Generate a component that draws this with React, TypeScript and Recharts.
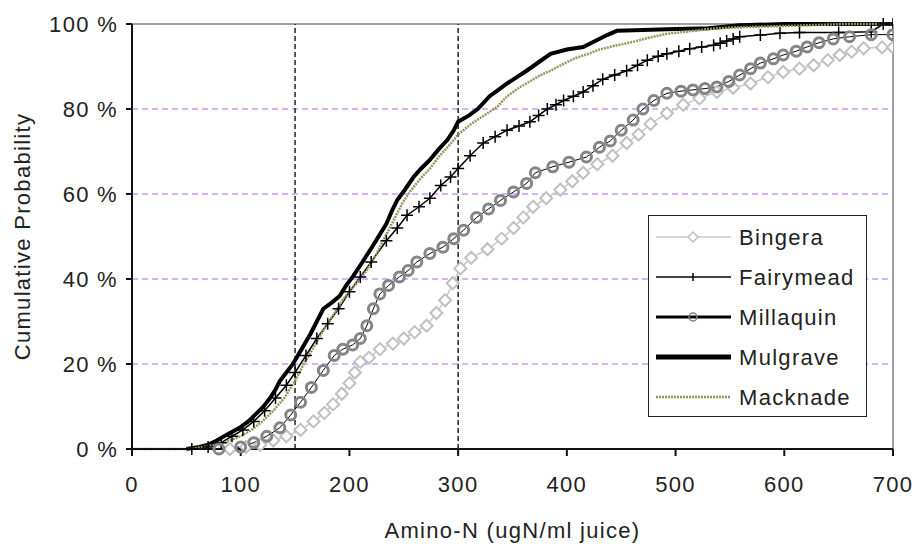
import React from 'react';
import { LineChart, Line, XAxis, YAxis, CartesianGrid, ReferenceLine, Legend, Label } from 'recharts';

const FONT = '"Liberation Sans", Arial, sans-serif';

const xTicks = [0, 100, 200, 300, 400, 500, 600, 700];
const yTicks = [0, 20, 40, 60, 80, 100];
const markers = [150, 300];

// Bingera
const bingeraX = [90, 105, 118, 130, 142, 155, 167, 177, 185, 193, 200, 205, 210, 218, 228, 240, 250, 260, 271, 280, 288, 295, 302, 312, 327, 340, 351, 360, 369, 381, 394, 405, 415, 428, 442, 455, 466, 477, 492, 507, 522, 538, 553, 569, 585, 599, 614, 627, 640, 651, 662, 673, 690, 700];
const bingeraP = [0, 0.5, 1, 2, 3, 4.5, 6.5, 8.5, 10.5, 13, 15.5, 18, 20.5, 21.5, 23.5, 24.8, 26, 27.5, 29, 32, 35, 39, 42.5, 45, 47, 49.5, 52, 54.5, 57, 59, 61, 63, 65, 67, 69, 72, 74, 76.5, 79, 81, 82.5, 84, 85, 86, 87.5, 88.7, 89.5, 90.3, 91.5, 92.7, 93.5, 94.3, 94.5, 94.5];

// Fairymead
const fairyX = [55, 70, 82, 92, 102, 112, 122, 132, 142, 150, 160, 170, 180, 190, 200, 210, 220, 234, 244, 253, 264, 274, 284, 293, 300, 311, 323, 334, 345, 356, 366, 374, 382, 390, 397, 406, 415, 424, 433, 444, 455, 465, 474, 484, 492, 503, 513, 524, 535, 541, 547, 553, 559, 578, 596, 614, 650, 680, 691, 700];
const fairyP = [0, 0.5, 1.5, 3, 4.5, 6.5, 9, 12, 15, 18, 22, 26, 29.5, 33, 37, 40.5, 44, 49, 52, 55, 57, 59, 62, 64, 66, 69, 72, 73.5, 75, 76, 77, 78.5, 80, 81, 82, 83, 84, 85.5, 87, 88, 89, 90.3, 91.5, 92.4, 93, 93.6, 94.2, 94.6, 95, 95.5, 96, 96.5, 97, 97.4, 97.8, 98, 98, 98.2, 100, 100];

// Millaquin
const millaX = [80, 100, 112, 124, 136, 146, 155, 165, 176, 186, 194, 203, 210, 216, 222, 228, 236, 246, 254, 262, 274, 286, 296, 305, 317, 328, 339, 351, 363, 371, 387, 402, 418, 430, 440, 450, 461, 470, 480, 492, 505, 516, 527, 538, 549, 559, 569, 578, 590, 599, 611, 621, 632, 645, 660, 680, 700];
const millaP = [0, 0.5, 1.5, 3, 5, 8, 11, 14.5, 18.5, 22, 23.5, 24.5, 26, 29, 33, 36.5, 38.5, 40.5, 42, 44, 46, 47.5, 49.5, 51.5, 54.5, 56.5, 58.5, 60.5, 62.5, 65, 66.4, 67.5, 68.7, 71, 72.5, 75, 77.4, 80, 82, 83.7, 84.2, 84.5, 84.8, 85.2, 86.5, 88, 89.5, 90.8, 91.8, 92.7, 93.6, 94.6, 95.6, 96.5, 97, 97.5, 97.5];

// Mulgrave
const mulgX = [50, 62, 70, 78, 88, 99, 107, 115, 121, 127, 132, 136, 142, 148, 156, 164, 170, 176, 184, 191, 197, 203, 212, 222, 228, 234, 239, 244, 251, 259, 266, 274, 282, 290, 296, 300, 310, 318, 329, 337, 345, 354, 363, 374, 385, 400, 415, 426, 437, 446, 470, 500, 530, 559, 600, 700];
const mulgP = [0, 0.5, 1, 2, 3.5, 5, 6.5, 8.5, 10, 12, 14, 16, 18, 20, 23.5, 27, 30, 33, 34.5, 36, 38.5, 40.5, 44, 48, 50.5, 53, 56, 58.6, 61, 64, 66, 68, 70.5, 72.7, 75, 77, 78.5, 80, 83, 84.5, 86, 87.5, 89, 91, 93, 94, 94.6, 96, 97.4, 98.4, 98.6, 98.8, 99, 99.7, 100, 100];

// Macknade
const mackX = [0, 55, 65, 78, 90, 100, 110, 120, 130, 140, 150, 158, 166, 175, 185, 195, 205, 216, 225, 233, 240, 249, 257, 265, 274, 283, 292, 300, 312, 324, 336, 345, 356, 366, 376, 385, 396, 408, 420, 430, 446, 461, 476, 492, 510, 530, 553, 580, 610, 655, 700];
const mackP = [0, 0, 0.5, 1, 2, 3, 4.5, 6.5, 9, 12, 16, 20, 23.5, 27.5, 31.5, 35.5, 38.5, 42, 46, 50, 53.5, 58, 61, 63.5, 66, 69, 71.5, 74, 76.5, 78.5, 80.5, 83, 85, 86.5, 88, 89, 90.5, 92, 93, 94, 95, 95.8, 96.8, 97.7, 98.2, 98.8, 99.2, 99.4, 99.6, 100, 100];

const pts = (xs: number[], ps: number[]) => xs.map((x, i) => ({ x, p: ps[i] }));

type DotProps = { cx?: number; cy?: number; index?: number };

const diamondDot = ({ cx, cy, index }: DotProps) => {
  if (cx == null || cy == null) return <g key={index} />;
  return (
    <path
      key={index}
      d={`M${cx},${cy - 6}L${cx + 6},${cy}L${cx},${cy + 6}L${cx - 6},${cy}Z`}
      fill="#fff"
      stroke="#c0c0c0"
      strokeWidth={2}
    />
  );
};

const plusDot = ({ cx, cy, index }: DotProps) => {
  if (cx == null || cy == null) return <g key={index} />;
  return (
    <path
      key={index}
      d={`M${cx - 6},${cy}H${cx + 6}M${cx},${cy - 6}V${cy + 6}`}
      stroke="#000"
      strokeWidth={1.5}
    />
  );
};

const circleDot = ({ cx, cy, index }: DotProps) => {
  if (cx == null || cy == null) return <g key={index} />;
  return <circle key={index} cx={cx} cy={cy} r={5} fill="none" stroke="#858585" strokeWidth={3} />;
};

const legendRows = ['Bingera', 'Fairymead', 'Millaquin', 'Mulgrave', 'Macknade'];

function LegendBox() {
  return (
    <div style={{ width: 219, height: 202, border: '1.5px solid #222', background: '#fff', boxSizing: 'border-box' }}>
      <svg width={216} height={199} style={{ display: 'block' }}>
        {legendRows.map((name, i) => {
          const y = 21 + i * 40;
          return (
            <g key={name}>
              {i === 0 && (
                <>
                  <line x1={7} x2={82} y1={y} y2={y} stroke="#c8c8c8" strokeWidth={1.5} />
                  <path d={`M44,${y - 5}L49,${y}L44,${y + 5}L39,${y}Z`} fill="#fff" stroke="#bdbdbd" strokeWidth={1.5} />
                </>
              )}
              {i === 1 && (
                <>
                  <line x1={7} x2={82} y1={y} y2={y} stroke="#000" strokeWidth={1.5} />
                  <line x1={44} x2={44} y1={y - 4} y2={y + 4} stroke="#000" strokeWidth={1.5} />
                </>
              )}
              {i === 2 && (
                <>
                  <line x1={7} x2={82} y1={y} y2={y} stroke="#000" strokeWidth={3} />
                  <circle cx={44} cy={y} r={4} fill="none" stroke="#808080" strokeWidth={1.5} />
                </>
              )}
              {i === 3 && <line x1={7} x2={82} y1={y} y2={y} stroke="#000" strokeWidth={5} />}
              {i === 4 && <line x1={7} x2={82} y1={y} y2={y} stroke="#94945c" strokeWidth={2.5} strokeDasharray="2 1" />}
              <text
                x={90}
                y={y}
                dominantBaseline="central"
                fontFamily={FONT}
                fontSize={22}
                letterSpacing={1.3}
                fill="#222"
              >
                {name}
              </text>
            </g>
          );
        })}
      </svg>
    </div>
  );
}

const tickStyle = { fill: '#222', fontSize: 22, fontFamily: FONT, letterSpacing: 1.3 };

export default function App() {
  return (
    <div style={{ position: 'absolute', left: 0, top: 0, background: '#fff' }}>
      <LineChart width={916} height={546} margin={{ top: 24, right: 23, left: 0, bottom: 0 }}>
        <CartesianGrid vertical={false} stroke="#cc99ff" strokeDasharray="6 4" strokeWidth={1.5} />
        <XAxis
          type="number"
          dataKey="x"
          domain={[0, 700]}
          ticks={xTicks}
          height={97}
          tick={tickStyle}
          tickSize={7}
          tickMargin={20}
          axisLine={{ stroke: '#111', strokeWidth: 2 }}
          tickLine={{ stroke: '#111', strokeWidth: 2 }}
          allowDataOverflow
        >
          <Label
            value="Amino-N (ugN/ml juice)"
            position="insideBottom"
            offset={8}
            style={{ fill: '#222', fontSize: 22, fontFamily: FONT, letterSpacing: 1.3 }}
          />
        </XAxis>
        <YAxis
          type="number"
          domain={[0, 100]}
          ticks={yTicks}
          width={132}
          tick={tickStyle}
          tickFormatter={(v: number) => `${v} %`}
          tickSize={6}
          tickMargin={8}
          axisLine={{ stroke: '#111', strokeWidth: 2 }}
          tickLine={{ stroke: '#111', strokeWidth: 2 }}
        >
          <Label
            content={({ viewBox }: any) => {
              const cx = viewBox.x + 22;
              const cy = viewBox.y + viewBox.height / 2;
              return (
                <text
                  x={cx}
                  y={cy}
                  transform={`rotate(-90 ${cx} ${cy})`}
                  textAnchor="middle"
                  dominantBaseline="central"
                  fontFamily={FONT}
                  fontSize={22}
                  letterSpacing={1.3}
                  fill="#222"
                >
                  Cumulative Probability
                </text>
              );
            }}
          />
        </YAxis>
        <ReferenceLine y={100} stroke="#a0a0a0" strokeWidth={2} />
        <ReferenceLine x={700} stroke="#a0a0a0" strokeWidth={2} />
        {markers.map((m) => (
          <ReferenceLine key={m} x={m} stroke="#222" strokeWidth={1.5} strokeDasharray="5 3" />
        ))}
        <Line data={pts(bingeraX, bingeraP)} dataKey="p" name="Bingera" stroke="#c8c8c8" strokeWidth={1.5} dot={diamondDot} isAnimationActive={false} />
        <Line data={pts(fairyX, fairyP)} dataKey="p" name="Fairymead" stroke="#000" strokeWidth={1.5} dot={plusDot} isAnimationActive={false} />
        <Line data={pts(millaX, millaP)} dataKey="p" name="Millaquin" stroke="#000" strokeWidth={1} dot={circleDot} isAnimationActive={false} />
        <Line data={pts(mulgX, mulgP)} dataKey="p" name="Mulgrave" stroke="#000" strokeWidth={4} dot={false} isAnimationActive={false} />
        <Line data={pts(mackX, mackP)} dataKey="p" name="Macknade" stroke="#94945c" strokeWidth={2.5} strokeDasharray="2 1" dot={false} isAnimationActive={false} />
        <Legend
          layout="vertical"
          align="center"
          verticalAlign="middle"
          content={() => <LegendBox />}
          wrapperStyle={{ left: 648, top: 215, width: 219, height: 202 }}
        />
      </LineChart>
    </div>
  );
}
